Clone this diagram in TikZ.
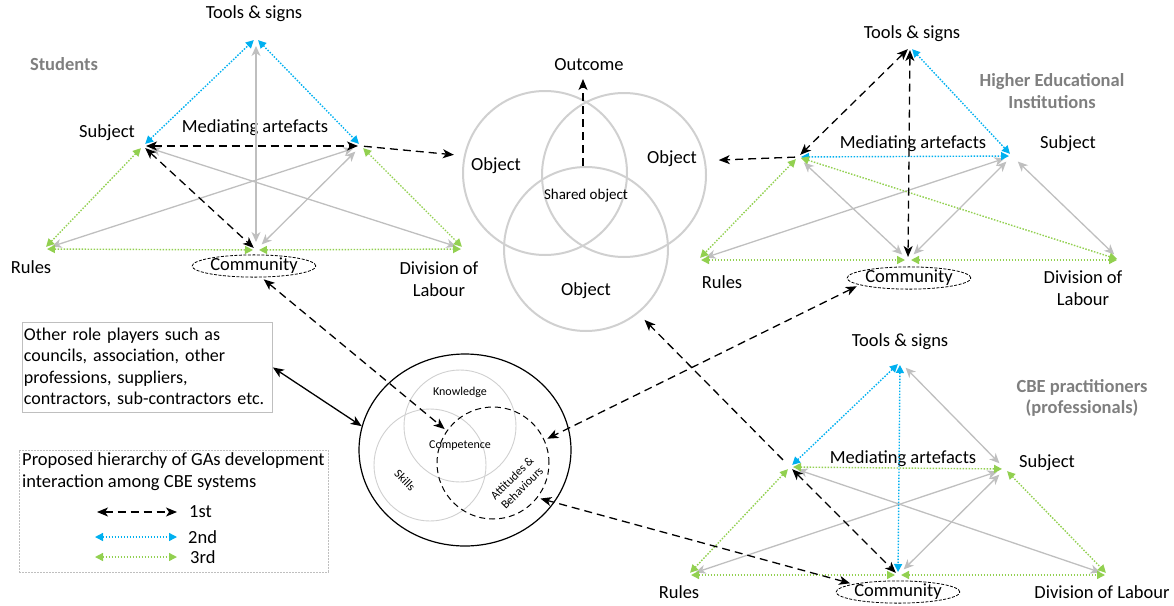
\documentclass[tikz,border=0pt]{standalone}
\usepackage{fontspec}
\setmainfont{Carlito}
\usetikzlibrary{arrows.meta,shapes.geometric,calc}
\definecolor{dotblue}{HTML}{00B0F0}
\definecolor{dotgreen}{HTML}{92D050}
\definecolor{linkgrey}{HTML}{BFBFBF}
\definecolor{ringgrey}{HTML}{D0D0D0}
\definecolor{titlegrey}{HTML}{7F7F7F}
\definecolor{boxgrey}{HTML}{BFBFBF}

\begin{document}
\begin{tikzpicture}[x=1pt,y=-1pt,
  lbl/.style={font=\fontsize{18.5}{21.7}\selectfont, inner sep=0pt, align=center},
  ttl/.style={font=\fontsize{18.5}{21.7}\selectfont\bfseries, text=titlegrey, inner sep=0pt, align=center},
  small/.style={font=\fontsize{12}{14}\selectfont, inner sep=0pt, align=center},
  first/.style={black, line width=1.3pt, dash pattern=on 8pt off 5pt,
    >={Stealth[length=11pt,width=9pt,inset=3pt]}, shorten <=3pt, shorten >=3pt},
  second/.style={dotblue, line width=1.4pt, dash pattern=on 1.5pt off 1.5pt,
    >={Triangle[length=8pt,width=8pt]}, shorten <=3pt, shorten >=3pt},
  third/.style={dotgreen, line width=1.4pt, dash pattern=on 1.5pt off 1.5pt,
    >={Triangle[length=8pt,width=8pt]}, shorten <=3pt, shorten >=3pt},
  link/.style={linkgrey, line width=1.3pt,
    >={Stealth[length=10pt,width=9pt,inset=3pt]}, shorten <=8pt, shorten >=8pt},
  ring/.style={circle, draw=ringgrey, line width=2pt, minimum size=164pt, inner sep=0pt},
  kring/.style={circle, draw=ringgrey, line width=0.9pt, minimum size=112pt, inner sep=0pt},
  commu/.style={ellipse, draw=black, line width=0.8pt, dash pattern=on 3pt off 1.5pt,
    minimum width=112pt, minimum height=22pt, inner sep=0pt, font=\fontsize{18.5}{21.7}\selectfont}
]
\useasboundingbox (0,0) rectangle (1174,605);

% ---------------- Students activity system ----------------
\coordinate (sT)  at (256,38);
\coordinate (sL)  at (143,146);
\coordinate (sR)  at (361,146);
\coordinate (sRu) at (44,249);
\coordinate (sCo) at (256,250);
\coordinate (sDi) at (464,249);

\node[ttl] (sTitle) at (64,64) {Students};
\node[lbl] (sTools) at (254,14) {Tools \& signs};
\node[lbl] (sSubj)  at (107,133) {Subject};
\node[lbl] (sMed)   at (255,128) {Mediating artefacts};
\node[lbl] (sRules) at (31,267) {Rules};
\node[commu] (sCom) at (254,266) {Community};
\node[lbl] (sDiv)   at (439,279) {Division of\\Labour};

\draw[link,<->] (sT) -- (sCo);
\draw[link,<->] (sL) -- (sDi);
\draw[link,<->] (sRu) -- (sR);
\draw[link,<->] (sCo) -- (sR);
\draw[second,<->] (sL) -- (sT);
\draw[second,<->] (sT) -- (sR);
\draw[third,<->] (sL) -- (sRu);
\draw[third,<->] (sR) -- (sDi);
\draw[third,<->] (sRu) -- (sCo);
\draw[third,<->] (sCo) -- (sDi);
\draw[first,<->] (sL) -- (sR);
\draw[first,<->] (sL) -- (sCo);

% ---------------- Shared object ----------------
\node[ring] (objL) at (545,173) {};
\node[ring] (objR) at (624,175) {};
\node[ring] (objB) at (586,249) {};
\node[lbl] (objLT) at (496,166) {Object};
\node[lbl] (objRT) at (672,159) {Object};
\node[lbl] (objBT) at (586,291) {Object};
\node[font=\fontsize{15}{17}\selectfont, inner sep=0pt] (shared) at (586,196) {Shared object};
\node[lbl] (outcome) at (589,65) {Outcome};
\coordinate (outS) at (583,166);
\coordinate (outT) at (583,79);
\draw[first,->,shorten <=0pt,shorten >=0pt] (outS) -- (outT);

\draw[first,->,shorten >=10pt] (sR) -- (objL.168);

% ---------------- Higher Educational Institutions ----------------
\coordinate (hT)  at (910,47);
\coordinate (hL)  at (798,157);
\coordinate (hR)  at (1012,156);
\coordinate (hRu) at (698,260);
\coordinate (hCo) at (908,260);
\coordinate (hDi) at (1120,260);

\node[ttl] (hTitle) at (1052,91) {Higher Educational\\Institutions};
\node[lbl] (hTools) at (912,34) {Tools \& signs};
\node[lbl] (hMed)   at (913,144) {Mediating artefacts};
\node[lbl] (hSubj)  at (1068,144) {Subject};
\node[lbl] (hRules) at (722,282) {Rules};
\node[commu] (hCom) at (909,278) {Community};
\node[lbl] (hDiv)   at (1083,288) {Division of\\Labour};

\draw[link,<->] (hL) -- (hCo);
\draw[link,<->] (hRu) -- (hR);
\draw[link,<->] (hCo) -- (hR);
\draw[link,<->] (hR) -- (hDi);
\draw[second,<->] (hT) -- (hR);
\draw[second,<->] (hL) -- (hR);
\draw[third,<->] (hL) -- (hRu);
\draw[third,<->] (hL) -- (hDi);
\draw[third,<->] (hRu) -- (hCo);
\draw[third,<->] (hCo) -- (hDi);
\draw[first,<->] (hT) -- (hL);
\draw[first,<->] (hT) -- (hCo);
\draw[first,->,shorten >=13pt] (hL) -- (objR.10);

% ---------------- CBE practitioners ----------------
\coordinate (cT)  at (900,362);
\coordinate (cL)  at (790,467);
\coordinate (cR)  at (1005,469);
\coordinate (cRu) at (688,575);
\coordinate (cCo) at (898,575);
\coordinate (cDi) at (1108,575);

\node[ttl] (cTitle) at (1082,398) {CBE practitioners\\(professionals)};
\node[lbl] (cTools) at (900,342) {Tools \& signs};
\node[lbl] (cMed)   at (903,459) {Mediating artefacts};
\node[lbl] (cSubj)  at (1047,463) {Subject};
\node[lbl] (cRules) at (679,592) {Rules};
\node[commu] (cCom) at (898,592) {Community};
\node[lbl] (cDiv)   at (1102,592) {Division of Labour};

\draw[link,<->] (cT) -- (cR);
\draw[link,<->] (cL) -- (cDi);
\draw[link,<->] (cRu) -- (cR);
\draw[link,<->] (cCo) -- (cR);
\draw[second,<->] (cL) -- (cT);
\draw[second,<->] (cT) -- (cCo);
\draw[third,<->] (cL) -- (cR);
\draw[third,<->] (cL) -- (cRu);
\draw[third,<->] (cR) -- (cDi);
\draw[third,<->] (cRu) -- (cCo);
\draw[third,<->] (cCo) -- (cDi);
\draw[first,<->] (cL) -- (cCo);
\draw[first,->,shorten <=10pt,shorten >=9pt] (cL) -- (objB.-51);

% ---------------- Competence ----------------
\node[ellipse, draw=black, line width=1.2pt, minimum width=212pt, minimum height=192pt, inner sep=0pt] (comp) at (465,450) {};
\node[kring] (know)   at (460,426) {};
\node[kring] (skills) at (430,465) {};
\node[circle, draw=black, line width=1pt, dash pattern=on 6pt off 4pt, minimum size=112pt, inner sep=0pt] (att) at (493,463) {};
\node[small] (knowT) at (460,392) {Knowledge};
\node[small] (compT) at (460,446) {Competence};
\node[small, rotate=-45] (skillT) at (405,480) {Skills};
\node[small, rotate=45] (attT) at (517,483) {Attitudes \&\\Behaviours};
\coordinate (compIn) at (447,431);

\draw[first,<->] (sCom.-57) -- (compIn);
\draw[first,<->] (hCom.188) -- (att.24);
\draw[first,<->] (cCom.170) -- (att.-38);

% ---------------- Other role players ----------------
\node[draw=boxgrey, line width=0.9pt, anchor=north west, minimum width=250pt, minimum height=90pt,
      text width=247pt, inner xsep=1.5pt, inner ysep=3pt, align=left, font=\fontsize{18}{21.5}\selectfont] (others) at (22,322)
  {Other role players such as\\councils, association, other\\professions, suppliers,\\contractors, sub-contractors etc.};
\draw[black, line width=1.3pt, >={Stealth[length=11pt,width=9pt,inset=3pt]}, <->] (others.east) -- (comp.167);

% ---------------- Legend ----------------
\node[draw=boxgrey, line width=0.7pt, dash pattern=on 2pt off 1pt, anchor=north west,
      minimum width=309pt, minimum height=122pt, inner sep=0pt] (legend) at (19,450) {};
\node[lbl, anchor=west, align=left] (legT) at (22,472)
  {Proposed hierarchy of GAs development\\interaction among CBE systems};
\coordinate (k1a) at (97,512);  \coordinate (k1b) at (177,512);
\coordinate (k2a) at (95,537);  \coordinate (k2b) at (177,537);
\coordinate (k3a) at (95,557);  \coordinate (k3b) at (177,557);
\draw[first,<->,shorten <=0pt,shorten >=0pt] (k1a) -- (k1b);
\draw[second,<->,shorten <=0pt,shorten >=0pt] (k2a) -- (k2b);
\draw[third,<->,shorten <=0pt,shorten >=0pt] (k3a) -- (k3b);
\node[lbl, anchor=west] (k1t) at (189,512) {1st};
\node[lbl, anchor=west] (k2t) at (188,537) {2nd};
\node[lbl, anchor=west] (k3t) at (190,557) {3rd};
\end{tikzpicture}
\end{document}
